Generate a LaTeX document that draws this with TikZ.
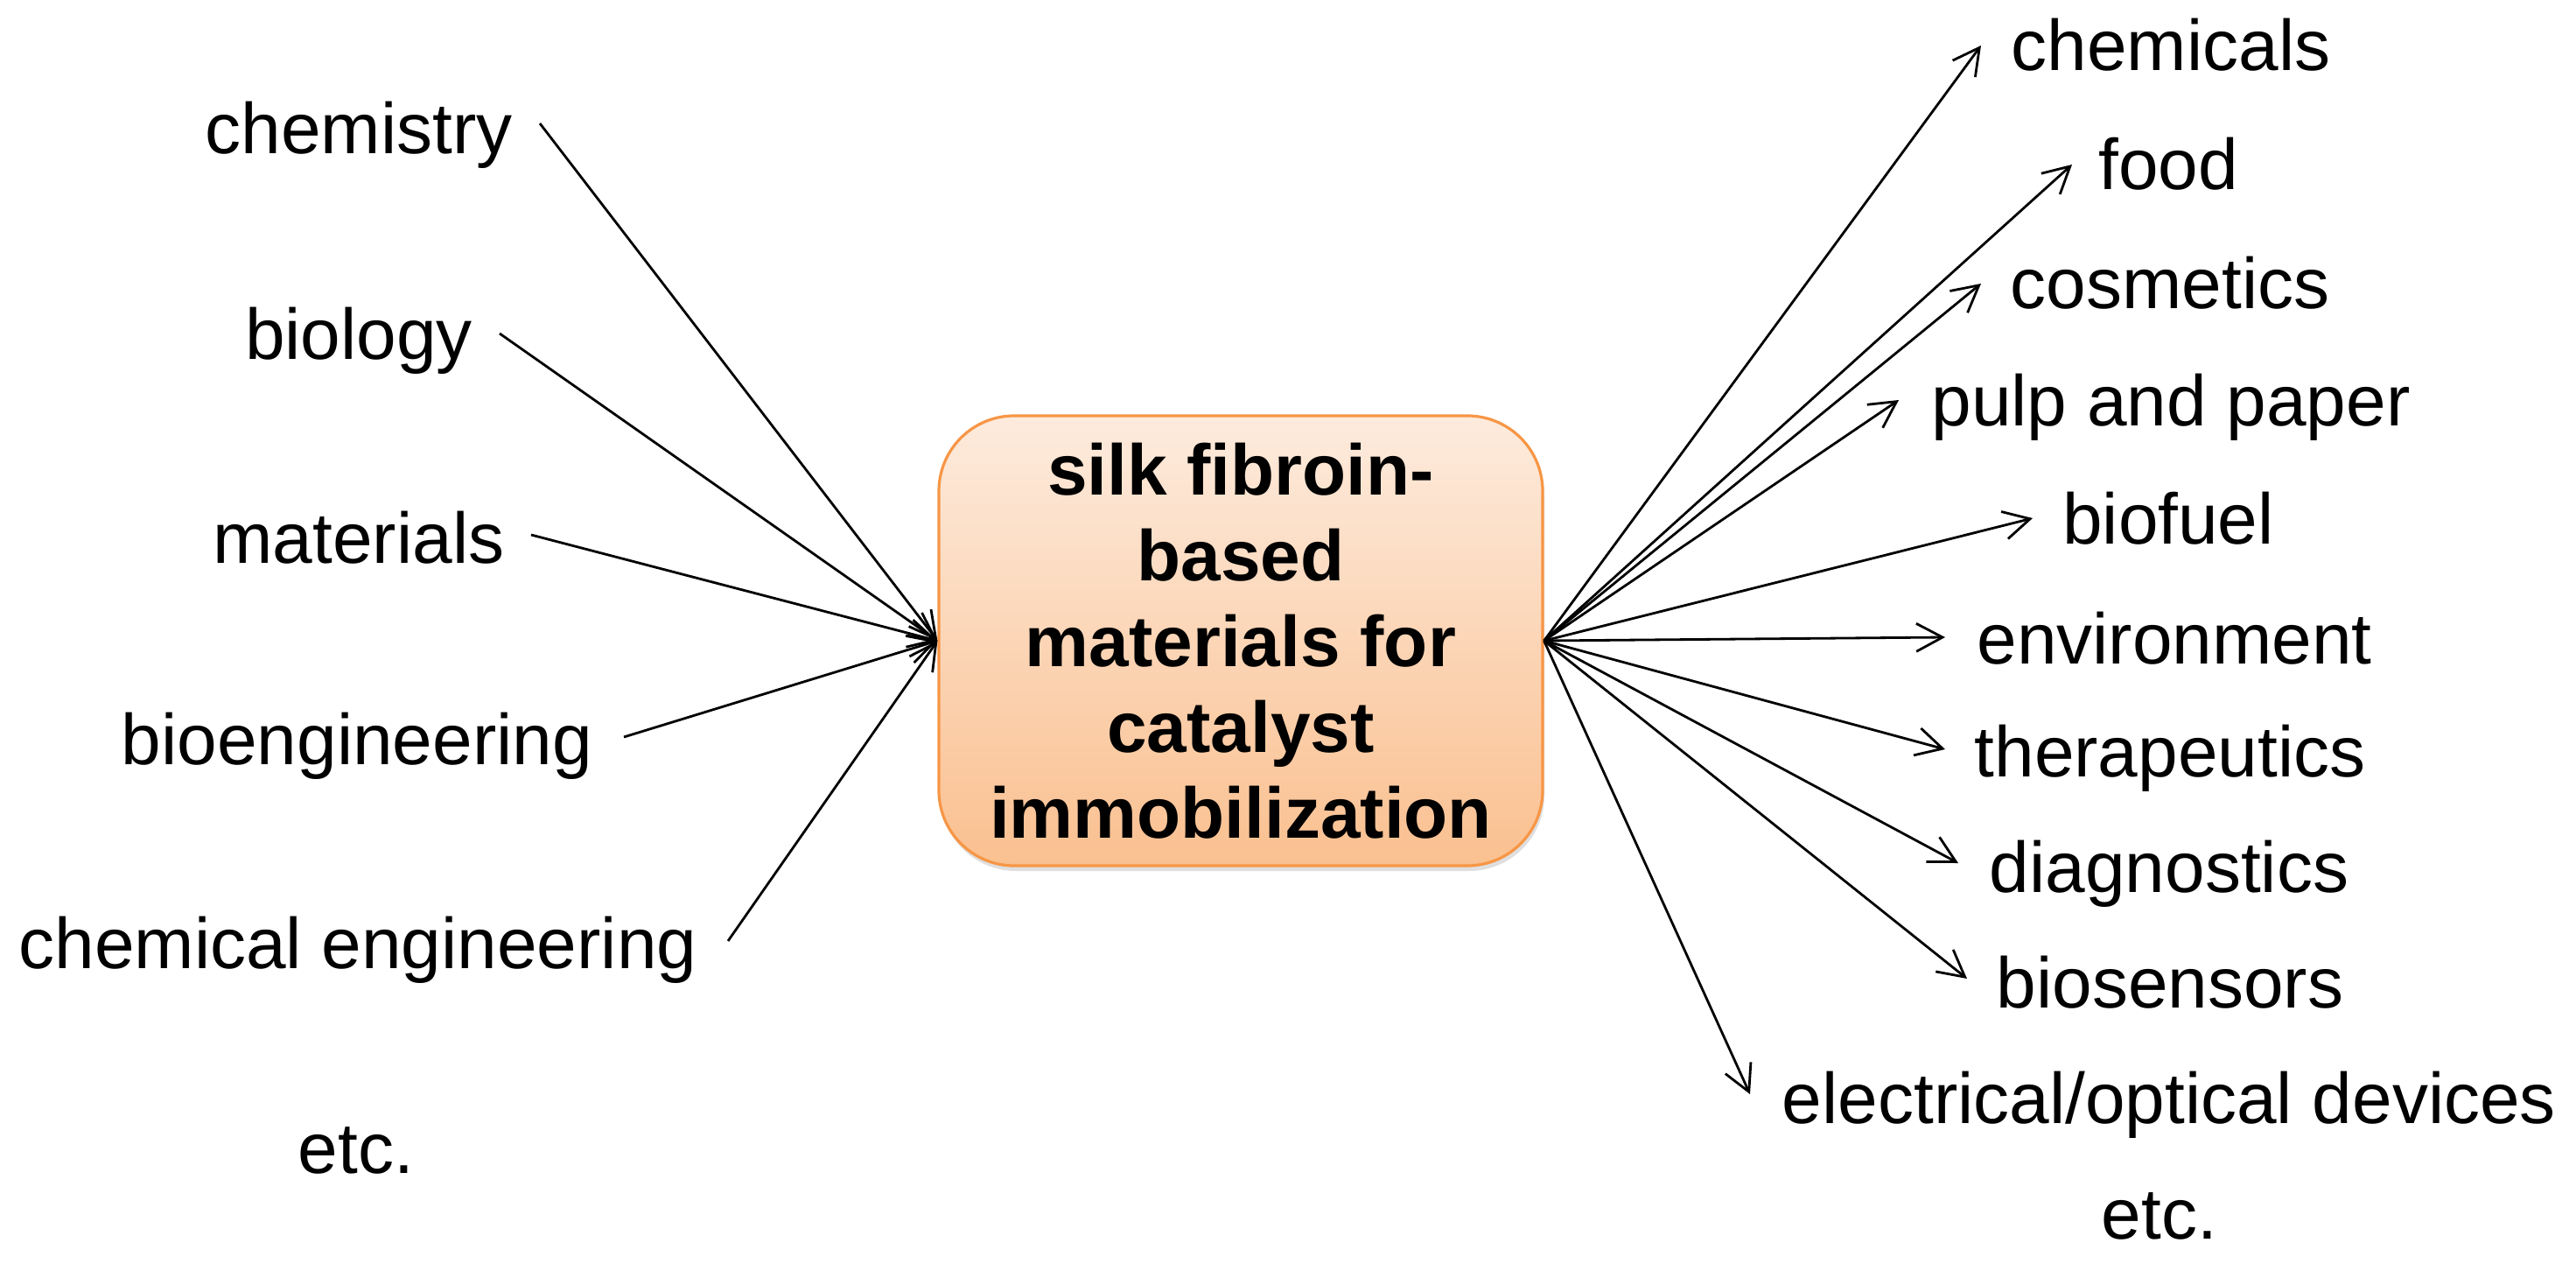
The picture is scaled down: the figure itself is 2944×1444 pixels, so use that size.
\documentclass[tikz,border=0pt]{standalone}
\usepackage{fontspec}
\setmainfont{Liberation Sans}
\usetikzlibrary{arrows.meta,shadows}
\definecolor{boxtop}{HTML}{FDEBDD}
\definecolor{boxbot}{HTML}{FAC090}
\definecolor{boxline}{HTML}{F79646}
\begin{document}
\begin{tikzpicture}[x=0.25pt,y=-0.25pt,
  lbl/.style={font=\fontsize{20.5}{24.6}\selectfont, inner sep=0pt, anchor=base},
  arr/.style={-{Straight Barb[length=7.5pt,width=8pt]}, line width=0.7pt, black},
  hubbox/.style={rounded corners=21.5pt, draw=boxline, line width=0.8pt,
    top color=boxtop, bottom color=boxbot,
    minimum width=172.5pt, minimum height=128.5pt, inner sep=0pt, align=center,
    font=\bfseries\fontsize{20.5}{24.5}\selectfont,
    drop shadow={opacity=0.25, shadow xshift=0.5pt, shadow yshift=-1.5pt}}]
\useasboundingbox (0,0) rectangle (2944,1444);

% central box
\node[hubbox] (box) at (1418,732) {silk fibroin-\\based\\materials for\\catalyst\\immobilization};

% left labels
\node[lbl] (lchem)  at (410,176)  {chemistry};
\node[lbl] (lbio)   at (410,411)  {biology};
\node[lbl] (lmat)   at (410,643)  {materials};
\node[lbl] (lbioe)  at (408,873)  {bioengineering};
\node[lbl] (lcheme) at (409,1106) {chemical engineering};
\node[lbl] (letcl)  at (407,1340) {etc.};

% left tails
\coordinate (tchem)  at (617,141);
\coordinate (tbio)   at (571,381);
\coordinate (tmat)   at (607,611);
\coordinate (tbioe)  at (713,842);
\coordinate (tcheme) at (832,1075);

\foreach \t in {tchem,tbio,tmat,tbioe,tcheme}
  \draw[arr] (\t) -- (box.west);

% right labels
\node[lbl] (rchem)  at (2481,81)   {chemicals};
\node[lbl] (rfood)  at (2478,217)  {food};
\node[lbl] (rcosm)  at (2480,353)  {cosmetics};
\node[lbl] (rpulp)  at (2481,486)  {pulp and paper};
\node[lbl] (rbiof)  at (2478,621)  {biofuel};
\node[lbl] (renv)   at (2485,758)  {environment};
\node[lbl] (rther)  at (2480,887)  {therapeutics};
\node[lbl] (rdiag)  at (2479,1019) {diagnostics};
\node[lbl] (rbios)  at (2480,1151) {biosensors};
\node[lbl] (relec)  at (2479,1283) {electrical/optical devices};
\node[lbl] (retcr)  at (2468,1415) {etc.};

% right tips
\coordinate (pchem) at (2264,52);
\coordinate (pfood) at (2368,188);
\coordinate (pcosm) at (2264,324);
\coordinate (ppulp) at (2170,457);
\coordinate (pbiof) at (2323,592);
\coordinate (penv)  at (2223,728);
\coordinate (pther) at (2223,856);
\coordinate (pdiag) at (2238,986);
\coordinate (pbios) at (2248,1118);
\coordinate (pelec) at (2000,1250);

\foreach \p in {pchem,pfood,pcosm,ppulp,pbiof,penv,pther,pdiag,pbios,pelec}
  \draw[arr] (box.east) -- (\p);
\end{tikzpicture}
\end{document}
